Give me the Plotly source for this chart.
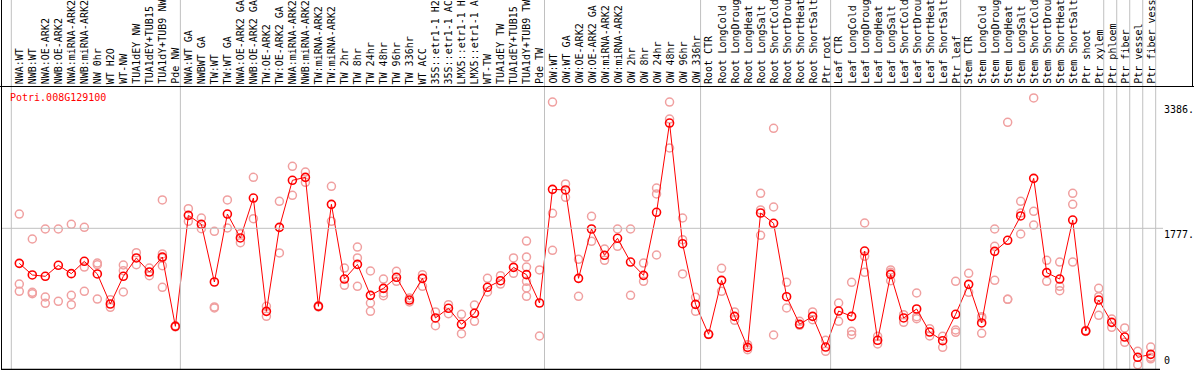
import plotly.graph_objects as go

categories = [
    "NWA:WT", "NWB:WT", "NWA:OE-ARK2", "NWB:OE-ARK2", "NWA:miRNA-ARK2", "NWB:miRNA-ARK2",
    "NW 0hr", "WT H2O", "WT-NW", "TUA1dEY NW", "TUA1dEY+TUB15", "TUA1dY+TUB9 NW", "Pde NW",
    "NWA:WT GA", "NWBWT GA", "TW:WT", "TW:WT GA", "NWA:OE-ARK2 GA", "NWB:OE-ARK2 GA",
    "TW:OE-ARK2", "TW:OE-ARK2 GA", "NWA:miRNA-ARK2 GA", "NWB:miRNA-ARK2 GA", "TW:miRNA-ARK2",
    "TW:miRNA-ARK2 GA", "TW 2hr", "TW 8hr", "TW 24hr", "TW 48hr", "TW 96hr", "TW 336hr",
    "WT ACC", "35S::etr1-1 H2O", "35S::etr1-1 ACC", "LMX5::etr1-1 H2O", "LMX5::etr1-1 ACC",
    "WT-TW", "TUA1dEY TW", "TUA1dEY+TUB15", "TUA1dY+TUB9 TW", "Pde TW",
    "OW:WT", "OW:WT GA", "OW:OE-ARK2", "OW:OE-ARK2 GA", "OW:miRNA-ARK2", "OW:miRNA-ARK2 GA",
    "OW 2hr", "OW 8hr", "OW 24hr", "OW 48hr", "OW 96hr", "OW 336hr",
    "Root CTR", "Root LongCold", "Root LongDrought", "Root LongHeat", "Root LongSalt",
    "Root ShortCold", "Root ShortDrought", "Root ShortHeat", "Root ShortSalt", "Ptr root",
    "Leaf CTR", "Leaf LongCold", "Leaf LongDrought", "Leaf LongHeat", "Leaf LongSalt",
    "Leaf ShortCold", "Leaf ShortDrought", "Leaf ShortHeat", "Leaf ShortSalt", "Ptr leaf",
    "Stem CTR", "Stem LongCold", "Stem LongDrought", "Stem LongHeat", "Stem LongSalt",
    "Stem ShortCold", "Stem ShortDrought", "Stem ShortHeat", "Stem ShortSalt", "Ptr shoot",
    "Ptr xylem", "Ptr phloem", "Ptr fiber", "Ptr vessel", "Ptr fiber vessel",
]

mean_values = [
    1328, 1179, 1162, 1303, 1196, 1354, 1192, 807, 1162, 1397, 1217, 1409, 521,
    1943, 1828, 1089, 1960, 1653, 2165, 713, 1789, 2392, 2430, 777, 2084, 1127, 1315,
    918, 1008, 1149, 858, 1136, 628, 752, 547, 688, 1021, 1106, 1277, 1183, 820,
    2276, 2268, 1136, 1768, 1431, 1649, 1345, 1174, 1982, 3126, 1580, 803,
    419, 1110, 649, 252, 1973, 1841, 901, 547, 649, 256,
    717, 649, 1486, 342, 1187, 628, 743, 448, 337, 675,
    1059, 564, 1482, 1623, 1935, 2417, 1209, 1127, 1883, 461, 858,
    572, 384, 124, 162,
]

replicate_values = [
    [1960, 1063, 969], [1640, 957, 940], [1768, 897, 816], [1768, 841], [1828, 918, 799],
    [1789, 1281, 969], [1332, 1311, 871], [863, 764], [1307, 1234, 961], [1465, 1311],
    [1268, 1170], [2140, 1448, 1397, 1298, 1021], [515, 528],
    [2029, 1866], [1909, 1772], [1738, 769, 756], [2140, 1781], [1708, 1593], [2430, 1900],
    [777, 649], [2123, 1461], [2571, 2199], [2498, 2366], [770, 785], [2315, 1866],
    [1268, 1046], [1537, 1397, 1034], [1230, 820, 713], [1127, 948, 914], [1226, 1098],
    [884, 833], [1183, 1034], [705, 530], [799, 683], [675, 427], [794, 585], [1136, 961],
    [1170, 1063], [1397, 1200], [1614, 1409, 1281, 1098, 1012, 905], [1243, 397],
    [3395, 1969, 1495], [2345, 2174], [1379, 905], [1930, 1610], [1512, 1367], [1768, 1546],
    [1768, 918], [1332, 1098], [2293, 2217, 1435], [3395, 3177, 2806], [1909, 1631, 1192],
    [893, 713],
    [415, 422], [1264, 969], [705, 598], [286, 222], [2225, 2012, 1687], [3058, 2050, 410],
    [1085, 756], [585, 534], [705, 606], [342, 201],
    [820, 585], [1085, 457, 414], [1845, 1418, 1213], [393, 295], [1243, 1213, 1105],
    [671, 572], [948, 645, 619], [491, 397], [393, 252], [1098, 474, 444],
    [1200, 957], [628, 645, 431], [1768, 1546, 1110], [3135, 867, 867], [2123, 1973, 1704],
    [3447, 1994, 1819], [1367, 1098], [1345, 1034, 978], [2225, 2084, 1345], [455, 468],
    [1008, 901, 662],
    [615, 508], [500, 316], [201, 30], [256, 124, 105],
]

group_starts = [0, 13, 41, 53, 63, 73, 84, 85, 86, 87]
gene_id = "Potri.008G129100"
y_tick_values = [0, 1777, 3386]
y_tick_labels = ["0", "1777.", "3386."]

W, H = 1194, 370
FONT = "DejaVu Sans Mono"
LABEL_CHARS = 14  # header column height holds 14 characters


def py(pix):  # pixel row -> paper y
    return (H - pix) / H


def px(pix):  # pixel column -> paper x
    return pix / W


idx = list(range(len(categories)))

rep_x, rep_y = [], []
for i, reps in enumerate(replicate_values):
    for v in reps:
        rep_x.append(i)
        rep_y.append(v)

fig = go.Figure()
fig.add_trace(go.Scatter(
    x=rep_x, y=rep_y, mode="markers", hoverinfo="skip",
    marker=dict(symbol="circle-open", size=8, color="#f0a0a0", line=dict(width=1.5, color="#f0a0a0")),
))
fig.add_trace(go.Scatter(
    x=idx, y=mean_values, mode="lines+markers",
    line=dict(color="#ff0000", width=1),
    marker=dict(symbol="circle-open", size=8, color="#ff0000", line=dict(width=1.6, color="#ff0000")),
))

shapes = []
for g in group_starts:
    shapes.append(dict(type="line", xref="x", yref="paper", x0=g - 0.615, x1=g - 0.615,
                       y0=py(369), y1=1, line=dict(color="#c0c0c0", width=1)))
shapes.append(dict(type="line", xref="x", yref="paper", x0=len(categories) - 1 + 0.38,
                   x1=len(categories) - 1 + 0.38, y0=py(369), y1=1,
                   line=dict(color="#c0c0c0", width=1)))
shapes.append(dict(type="line", xref="paper", yref="y", x0=px(2), x1=px(1163),
                   y0=y_tick_values[1], y1=y_tick_values[1], line=dict(color="#c0c0c0", width=1)))
shapes.append(dict(type="line", xref="paper", yref="paper", x0=px(1.5), x1=px(1.5), y0=py(369.5), y1=1,
                   line=dict(color="black", width=1)))
shapes.append(dict(type="line", xref="paper", yref="paper", x0=0, x1=1, y0=py(86.5), y1=py(86.5),
                   line=dict(color="black", width=1)))
shapes.append(dict(type="line", xref="paper", yref="paper", x0=px(1), x1=px(1160), y0=py(369.5), y1=py(369.5),
                   line=dict(color="black", width=1.5)))
shapes.append(dict(type="line", xref="paper", yref="paper", x0=px(1192.5), x1=px(1192.5), y0=py(86.5), y1=1,
                   line=dict(color="black", width=1)))

annotations = []
for i, c in enumerate(categories):
    annotations.append(dict(x=i, y=py(84), xref="x", yref="paper", text=c[:LABEL_CHARS], textangle=-90,
                            showarrow=False, xanchor="center", yanchor="bottom",
                            borderpad=0, borderwidth=0,
                            font=dict(family=FONT, size=10, color="black")))
annotations.append(dict(x=px(8.5), y=py(97), xref="paper", yref="paper", text=gene_id,
                        showarrow=False, xanchor="left", yanchor="middle", borderpad=0,
                        font=dict(family=FONT, size=10, color="#ff0000")))
for v, t in zip(y_tick_values, y_tick_labels):
    annotations.append(dict(x=px(1163), y=v, xref="paper", yref="y", text=t, showarrow=False,
                            xanchor="left", yanchor="bottom" if v == 0 else "top", borderpad=0,
                            font=dict(family=FONT, size=10, color="black")))

x0 = -19.3 / 13.005
x1 = x0 + W / 13.005
y0 = -3 / 0.07805
y1 = 367 / 0.07805

fig.update_layout(
    width=W, height=H, autosize=False,
    margin=dict(l=0, r=0, t=0, b=0, pad=0),
    paper_bgcolor="white", plot_bgcolor="white",
    showlegend=False,
    xaxis=dict(range=[x0, x1], visible=False, fixedrange=True),
    yaxis=dict(range=[y0, y1], visible=False, fixedrange=True),
    shapes=shapes, annotations=annotations,
)

fig.write_html("out.html", config={"displayModeBar": False},
               post_script="document.body.style.margin='0px';document.body.style.overflow='hidden';")
